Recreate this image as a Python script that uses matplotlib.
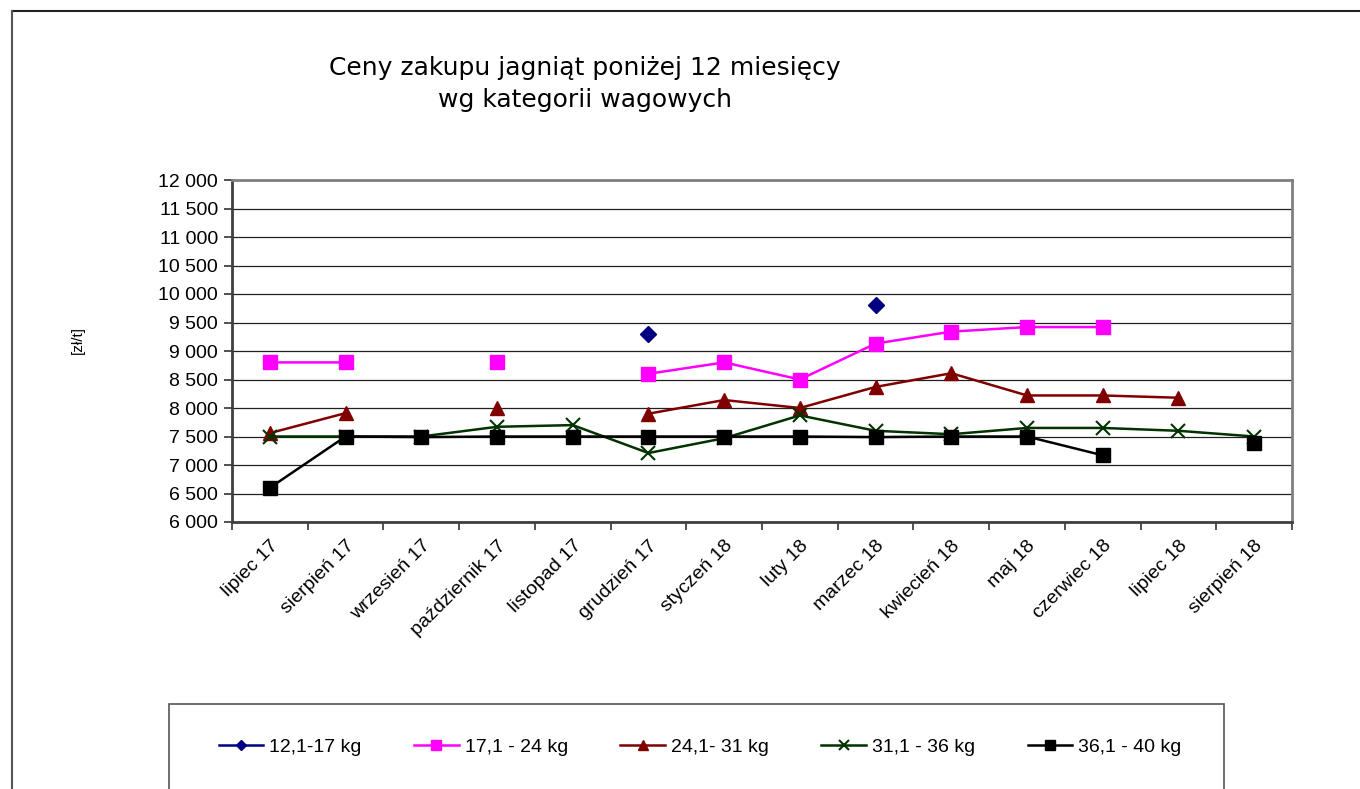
import numpy as np
import matplotlib
matplotlib.use("Agg")
import matplotlib.pyplot as plt
from matplotlib.ticker import FuncFormatter, FixedLocator
from matplotlib.patches import Rectangle
from matplotlib.lines import Line2D

plt.rcParams['font.family'] = ['Liberation Sans', 'DejaVu Sans']

nan = np.nan
miesiace = ['lipiec 17', 'sierpień 17', 'wrzesień 17', 'październik 17', 'listopad 17',
            'grudzień 17', 'styczeń 18', 'luty 18', 'marzec 18', 'kwiecień 18',
            'maj 18', 'czerwiec 18', 'lipiec 18', 'sierpień 18']

# ceny [zł/t] wg kategorii wagowych
kat_12_17 = [nan, nan, nan, nan, nan, 9300, nan, nan, 9800, nan, nan, nan, nan, nan]
kat_17_24 = [8800, 8800, nan, 8800, nan, 8600, 8800, 8500, 9130, 9340, 9420, 9420, nan, nan]
kat_24_31 = [7560, 7910, nan, 8000, nan, 7900, 8140, 8000, 8370, 8610, 8220, 8220, 8180, nan]
kat_31_36 = [7500, 7500, 7500, 7670, 7700, 7210, 7470, 7870, 7600, 7540, 7650, 7650, 7600, 7500]
kat_36_40 = [6600, 7500, 7490, 7500, 7500, 7500, 7500, 7500, 7490, 7500, 7500, 7170, nan, 7390]

etykiety = ['12,1-17 kg', '17,1 - 24 kg', '24,1- 31 kg', '31,1 - 36 kg', '36,1 - 40 kg']

serie = [
    (kat_12_17, '#000080', 'D', 8.5),
    (kat_17_24, '#FF00FF', 's', 10),
    (kat_24_31, '#800000', '^', 10),
    (kat_31_36, '#003300', 'x', 10),
    (kat_36_40, '#000000', 's', 10),
]

W, H = 1360, 789
fs = 14
fig = plt.figure(figsize=(W / 100, H / 100), dpi=100)
ax = fig.add_axes([232 / W, 1 - 522 / H, (1292 - 232) / W, (522 - 180) / H])

x = np.arange(len(miesiace))
for (vals, col, mk, ms), lab in zip(serie, etykiety):
    if mk == 'x':
        ax.plot(x, vals, color=col, lw=1.8, marker=mk, ms=ms, mew=1.5, label=lab, clip_on=False, zorder=3)
    else:
        ax.plot(x, vals, color=col, lw=1.8, marker=mk, ms=ms, mec=col, mfc=col, label=lab, clip_on=False, zorder=3)

ax.set_xlim(-0.5, len(miesiace) - 0.5)
ax.set_ylim(6000, 12000)
ax.set_yticks(np.arange(6000, 12001, 500))
ax.yaxis.set_major_formatter(FuncFormatter(lambda v, p: '{:,.0f}'.format(v).replace(',', ' ')))
ax.yaxis.grid(True, color='#202020', lw=0.9)
ax.set_axisbelow(True)

ax.xaxis.set_major_locator(FixedLocator(np.arange(-0.5, len(miesiace), 1.0)))
ax.xaxis.set_minor_locator(FixedLocator(x))
ax.set_xticklabels([], minor=False)
ax.set_xticklabels(miesiace, minor=True, rotation=45, ha='right', rotation_mode='anchor', fontsize=fs)
ax.tick_params(axis='x', which='minor', length=0, pad=11)
ax.tick_params(axis='x', which='major', length=6, width=1.2, color='#333333')
ax.tick_params(axis='y', length=6, width=1.2, color='#333333', labelsize=fs, pad=4)

for s in ['top', 'right']:
    ax.spines[s].set_color('#808080')
    ax.spines[s].set_linewidth(2)
for s in ['left', 'bottom']:
    ax.spines[s].set_color('#404040')
    ax.spines[s].set_linewidth(2)

fig.text(78 / W, 1 - 340 / H, '[zł/t]', rotation=90, ha='center', va='center', fontsize=11)

fig.text(585 / W, 1 - 84 / H, 'Ceny zakupu jagniąt poniżej 12 miesięcy\nwg kategorii wagowych',
         ha='center', va='center', fontsize=18, family=['DejaVu Sans'], linespacing=1.45)

# ramka wykresu
fig.add_artist(Line2D([12 / W, 1.0], [1 - 11 / H, 1 - 11 / H], color='#222222', lw=1.5))
fig.add_artist(Line2D([12 / W, 12 / W], [0, 1 - 11 / H], color='#555555', lw=1.5))

# ramka legendy
fig.add_artist(Rectangle((169 / W, -0.05), (1224 - 169) / W, 0.05 + (789 - 704) / H,
                         fill=False, ec='#555555', lw=1.2, transform=fig.transFigure))
fig.legend(*ax.get_legend_handles_labels(), loc='center', bbox_to_anchor=(700 / W, 1 - 747 / H),
           ncol=5, frameon=False, fontsize=fs, handlelength=2.3, columnspacing=2.7,
           handletextpad=0.3, markerscale=0.65)

fig.savefig('out.png', dpi=100)
